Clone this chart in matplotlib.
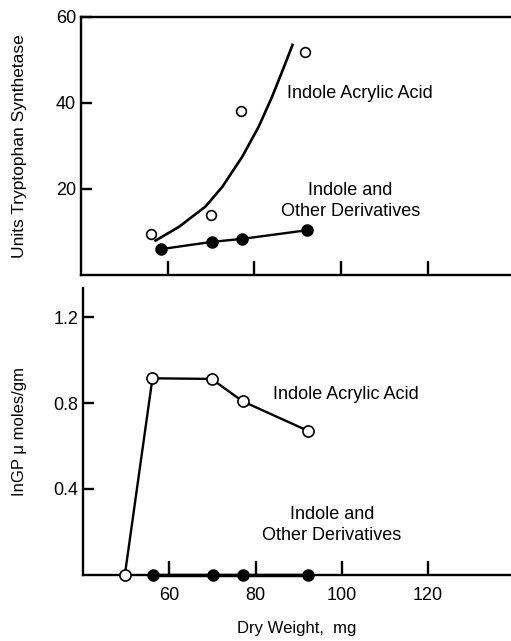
import matplotlib
matplotlib.use("Agg")
import matplotlib.pyplot as plt

# --- data ---
# top panel: units tryptophan synthetase
iaa_weight = [56.1, 70.1, 77.0, 91.7]
iaa_units = [9.5, 14.0, 38.1, 51.9]
iaa_curve_x = [57.2, 62.6, 68.7, 72.6, 77.2, 81.0, 84.1, 86.4, 88.8]
iaa_curve_y = [8.0, 11.2, 15.9, 20.5, 27.5, 34.5, 41.5, 47.3, 53.5]
other_weight = [58.4, 70.2, 77.2, 92.1]
other_units = [6.0, 7.7, 8.4, 10.4]

# bottom panel: InGP umoles/gm
iaa_weight2 = [49.7, 56.1, 69.8, 77.0, 92.2]
iaa_ingp = [0.0, 0.915, 0.912, 0.808, 0.670]
other_weight2 = [56.3, 70.1, 77.0, 92.2]
other_ingp = [0.0, 0.0, 0.0, 0.0]

top_yticks = [20, 40, 60]
bottom_yticks = [0.4, 0.8, 1.2]
xticks = [60, 80, 100, 120]

plt.rcParams["font.family"] = ["Liberation Sans", "DejaVu Sans"]
plt.rcParams["font.size"] = 12

fig = plt.figure(figsize=(5.11, 6.41), dpi=100)
ax1 = fig.add_axes([0.1585, 0.571, 0.8415, 0.4025])
ax2 = fig.add_axes([0.1624, 0.103, 0.8376, 0.4477])

lw = 1.7
for ax in (ax1, ax2):
    ax.set_xlim(40, 139.2)
    ax.spines["right"].set_visible(False)
    for s in ("left", "bottom", "top"):
        ax.spines[s].set_linewidth(lw)
    ax.tick_params(direction="in", width=lw, length=10, labelsize=13)
    ax.set_xticks(xticks)
ax2.spines["top"].set_visible(False)

# top panel
ax1.set_ylim(0, 60)
ax1.set_yticks(top_yticks)
ax1.tick_params(axis="y", length=8)
ax1.tick_params(axis="x", labelbottom=False)
ax1.plot(iaa_curve_x, iaa_curve_y, color="black", lw=1.9)
ax1.plot(iaa_weight, iaa_units, "o", ms=7, mfc="white", mec="black", mew=1.2)
ax1.plot(other_weight, other_units, "-o", color="black", lw=lw, ms=8)
ax1.set_ylabel("Units Tryptophan Synthetase", fontsize=12.5)
ax1.yaxis.set_label_coords(-0.125, 0.5)
ax1.text(104.4, 42.3, "Indole Acrylic Acid", ha="center", va="center", fontsize=13)
ax1.text(102.2, 17.2, "Indole and\nOther Derivatives", ha="center", va="center",
         fontsize=13, multialignment="center", linespacing=1.3)

# bottom panel
ax2.set_ylim(0, 1.335)
ax2.set_yticks(bottom_yticks)
ax2.set_yticklabels([f"{v:.1f}" for v in bottom_yticks])
ax2.tick_params(axis="y", length=8)
ax2.tick_params(axis="x", pad=9)
ax2.plot(other_weight2, other_ingp, "-o", color="black", lw=lw + 0.8, ms=8, clip_on=False, zorder=3)
ax2.plot(iaa_weight2, iaa_ingp, "-o", color="black", lw=lw, ms=8, mfc="white", mew=1.2,
         clip_on=False, zorder=4)
ax2.set_ylabel("InGP \u03bc moles/gm", fontsize=12)
ax2.yaxis.set_label_coords(-0.13, 0.5)
ax2.set_xlabel("Dry Weight,  mg", fontsize=12, labelpad=12)
ax2.text(100.9, 0.840, "Indole Acrylic Acid", ha="center", va="center", fontsize=13)
ax2.text(97.7, 0.233, "Indole and\nOther Derivatives", ha="center", va="center",
         fontsize=13, multialignment="center", linespacing=1.3)

fig.savefig("out.png", dpi=100)
